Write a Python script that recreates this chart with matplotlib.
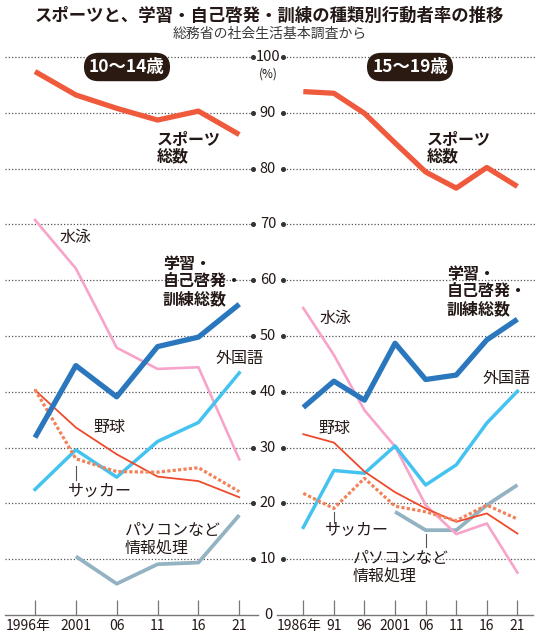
import numpy as np
import matplotlib
matplotlib.use("Agg")
import matplotlib.pyplot as plt
from matplotlib.transforms import blended_transform_factory, ScaledTranslation

plt.rcParams['font.family'] = ['Noto Sans CJK JP', 'DejaVu Sans']

# ---------------- data ----------------
left_years = [1996, 2001, 2006, 2011, 2016, 2021]
left_labels = ['1996年', '2001', '06', '11', '16', '21']
right_years = [1986, 1991, 1996, 2001, 2006, 2011, 2016, 2021]
right_labels = ['1986年', '91', '96', '2001', '06', '11', '16', '21']

sports_L = [97.4, 93.2, 90.8, 88.7, 90.3, 86.1]
study_L = [31.8, 44.7, 39.1, 48.1, 49.8, 55.7]
swim_L = [70.8, 62.1, 47.9, 44.1, 44.4, 27.9]
lang_L = [22.5, 29.6, 24.7, 31.1, 34.5, 43.4]
baseball_L = [40.3, 33.6, 28.8, 24.8, 24.0, 21.1]
soccer_L = [40.4, 28.0, 25.7, 25.6, 26.4, 22.1]
pc_L = [np.nan, 10.5, 5.6, 9.1, 9.4, 17.9]

sports_R = [93.8, 93.5, 89.9, 84.6, 79.4, 76.5, 80.2, 76.8]
study_R = [37.2, 41.9, 38.5, 48.7, 42.2, 43.0, 49.3, 53.0]
swim_R = [55.0, 46.6, 36.7, 30.2, 19.7, 14.5, 16.4, 7.6]
lang_R = [15.7, 25.9, 25.4, 30.3, 23.3, 26.9, 34.4, 40.1]
baseball_R = [32.4, 30.9, 25.7, 22.0, 19.1, 16.7, 18.2, 14.6]
soccer_R = [21.8, 19.1, 24.5, 19.5, 18.5, 16.9, 19.7, 17.2]
pc_R = [np.nan, np.nan, np.nan, 18.5, 15.2, 15.2, 19.7, 23.3]

y_ticks = [0, 10, 20, 30, 40, 50, 60, 70, 80, 90, 100]

# ---------------- style ----------------
TXT = '#231815'
C_SPORT = '#F05A3C'
C_STUDY = '#2B77BE'
C_LANG = '#45C3F0'
C_PC = '#93B2C2'
C_SWIM = '#F7A3CA'
C_BASE = '#EE4A2C'
C_SOCC = '#F2825A'
GRID = '#555555'

W, H = 539, 640
fig = plt.figure(figsize=(W / 100, H / 100), dpi=100)
fig.patch.set_facecolor('white')


def fx(x):
    return x / W


def fy(y):
    return 1 - y / H


y_bot, y_top = 615, 57
axL = fig.add_axes([fx(5), fy(y_bot), (258 - 5) / W, (y_bot - y_top) / H])
axR = fig.add_axes([fx(277), fy(y_bot), (533 - 277) / W, (y_bot - y_top) / H])

axL.set_xlim(1992.33, 2023.29)
axR.set_xlim(1981.70, 2023.55)

for ax, yrs, labs in [(axL, left_years, left_labels), (axR, right_years, right_labels)]:
    ax.set_ylim(0, 100)
    ax.set_facecolor('none')
    for s in ['top', 'left', 'right']:
        ax.spines[s].set_visible(False)
    ax.spines['bottom'].set_color('#777777')
    ax.spines['bottom'].set_linewidth(1.0)
    ax.set_yticks([])
    ax.set_xticks(yrs)
    ax.set_xticklabels(labs)
    ax.tick_params(axis='x', direction='in', length=11, width=0.9, color='#777777',
                   labelsize=10, labelcolor=TXT, pad=3)

# first labels shifted a little left
for ax, dx in [(axL, -7), (axR, -4)]:
    lab0 = ax.get_xticklabels()[0]
    lab0.set_transform(lab0.get_transform() + ScaledTranslation(dx / 100, 0, fig.dpi_scale_trans))

# gridlines
trL = blended_transform_factory(axL.transAxes, axL.transData)
trR = blended_transform_factory(axR.transAxes, axR.transData)
xl_end = (253 - 5) / (258 - 5)
xr_start = (283 - 277) / (533 - 277)
for v in y_ticks[1:]:
    axL.plot([0, xl_end], [v, v], transform=trL, color=GRID, lw=0.9,
             linestyle=(0, (1, 1.6)), zorder=1, clip_on=False)
    axL.plot([xl_end], [v], transform=trL, marker='o', ms=2.6, color='#333333', zorder=1, clip_on=False)
    axR.plot([xr_start, 1.01], [v, v], transform=trR, color=GRID, lw=0.9,
             linestyle=(0, (1, 1.6)), zorder=1, clip_on=False)
    axR.plot([xr_start], [v], transform=trR, marker='o', ms=2.6, color='#333333', zorder=1, clip_on=False)

# center y labels
trC = blended_transform_factory(fig.transFigure, axR.transData)
for v in y_ticks:
    axR.text(fx(268), v, str(v), transform=trC, ha='center', va='center',
             fontsize=10.5, color=TXT, clip_on=False)
fig.text(fx(268), fy(74), '(%)', ha='center', va='center', fontsize=8.5, color=TXT)


def draw(ax, yrs, pc, swim, lang, base, socc, study, sport):
    ax.plot(yrs, pc, color=C_PC, lw=2.7, solid_capstyle='butt', zorder=3)
    ax.plot(yrs, swim, color=C_SWIM, lw=1.9, zorder=3)
    ax.plot(yrs, lang, color=C_LANG, lw=2.5, zorder=3)
    ax.plot(yrs, base, color=C_BASE, lw=1.3, zorder=4)
    ax.plot(yrs, socc, color=C_SOCC, lw=2.3, linestyle=(0, (1.0, 0.7)), zorder=4)
    ax.plot(yrs, study, color=C_STUDY, lw=3.8, solid_capstyle='butt', zorder=5)
    ax.plot(yrs, sport, color=C_SPORT, lw=3.8, solid_capstyle='butt', zorder=5)


draw(axL, left_years, pc_L, swim_L, lang_L, baseball_L, soccer_L, study_L, sports_L)
draw(axR, right_years, pc_R, swim_R, lang_R, baseball_R, soccer_R, study_R, sports_R)

# leader lines
axL.plot([2001, 2001], [26.7, 24.2], color='#555555', lw=0.8, zorder=2)
axR.plot([1991, 1991], [18.5, 16.5], color='#555555', lw=0.8, zorder=2)
axR.plot([2006, 2006], [14.5, 12.2], color='#555555', lw=0.8, zorder=2)

# titles
fig.text(0.5, fy(16), 'スポーツと、学習・自己啓発・訓練の種類別行動者率の推移',
         ha='center', va='center', fontsize=12.5, fontweight='bold', color=TXT)
fig.text(0.5, fy(34), '総務省の社会生活基本調査から',
         ha='center', va='center', fontsize=10, color='#3a3a3a')

badge = dict(boxstyle='round,pad=0.3,rounding_size=0.85', fc='#2A1A12', ec='none')
fig.text(fx(127), fy(67), '10〜14歳', ha='center', va='center', fontsize=12.5,
         fontweight='bold', color='white', bbox=badge, zorder=10)
fig.text(fx(410), fy(67), '15〜19歳', ha='center', va='center', fontsize=12.5,
         fontweight='bold', color='white', bbox=badge, zorder=10)

# labels
LS = 11.5


def lab(x, y, s, bold=False, va='center'):
    fig.text(fx(x), fy(y), s, ha='left', va=va, fontsize=LS, color=TXT,
             fontweight='bold' if bold else 'normal', linespacing=1.12, zorder=10)


lab(157, 131, 'スポーツ\n総数', bold=True, va='top')
lab(427, 131, 'スポーツ\n総数', bold=True, va='top')
lab(163, 256, '学習・\n自己啓発・\n訓練総数', bold=True, va='top')
lab(447, 266, '学習・\n自己啓発・\n訓練総数', bold=True, va='top')
lab(60, 237, '水泳')
lab(320, 318, '水泳')
lab(216, 358, '外国語')
lab(483, 378, '外国語')
lab(93, 427, '野球')
lab(318, 428, '野球')
lab(68, 491, 'サッカー')
lab(325, 530, 'サッカー')
lab(125, 522, 'パソコンなど\n情報処理', va='top')
lab(353, 550, 'パソコンなど\n情報処理', va='top')

fig.savefig('out.png', dpi=100, facecolor='white')
